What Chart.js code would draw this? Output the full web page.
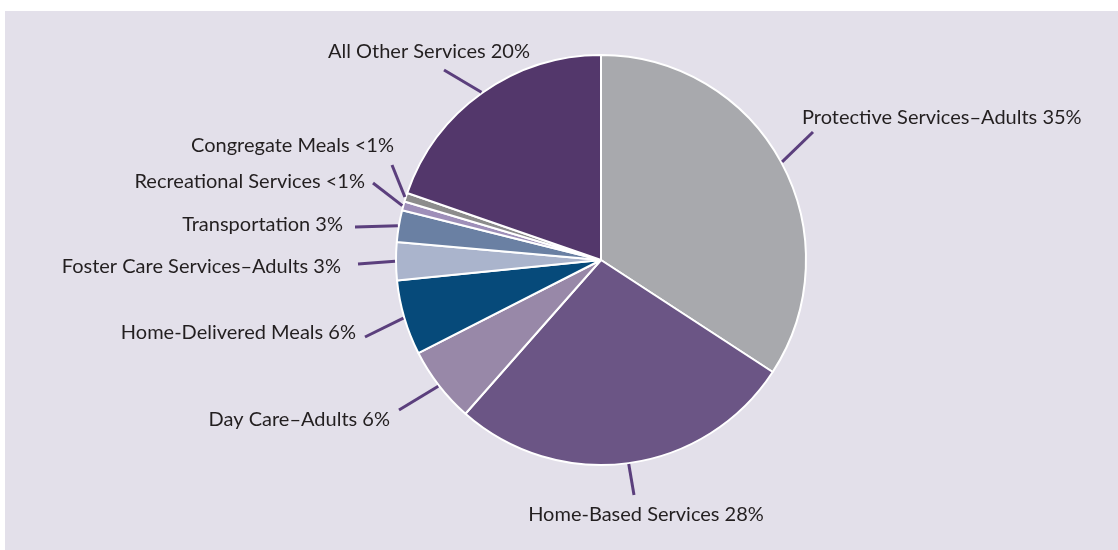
<!DOCTYPE html>
<html>
<head>
<meta charset="utf-8">
<script src="https://cdn.jsdelivr.net/npm/chart.js@4"></script>
<style>
  html, body { margin: 0; padding: 0; background: #fff; }
  #wrap { position: relative; width: 1118px; height: 550px; overflow: hidden; }
  #panel { position: absolute; left: 5px; top: 11px; right: 0; bottom: 0; background: #e3e0ea; }
  #myChart { position: absolute; left: 0; top: 0; }
</style>
</head>
<body>
<div id="wrap">
  <div id="panel"></div>
  <canvas id="myChart" width="1118" height="550"></canvas>
</div>
<script>
const categorias = [
  'Protective Services–Adults 35%',
  'Home-Based Services 28%',
  'Day Care–Adults 6%',
  'Home-Delivered Meals 6%',
  'Foster Care Services–Adults 3%',
  'Transportation 3%',
  'Recreational Services <1%',
  'Congregate Meals <1%',
  'All Other Services 20%',
];
const valores = [34.2, 27.3, 6.0, 5.9, 3.0, 2.5, 0.7, 0.7, 19.7];
const colores = [
  '#a8a9ad',
  '#6b5585',
  '#9888a8',
  '#064a7a',
  '#aab4cc',
  '#6a80a3',
  '#9e8fb9',
  '#8c8c8c',
  '#53376b',
];

// where each label and the end of its leader line sit: [lineX, lineY, textX, textY, align]
const etiquetas = [
  [813, 132, 802, 118, 'left'],
  [634, 495, 646, 515, 'center'],
  [399, 410, 390, 420, 'right'],
  [365, 337, 356, 333, 'right'],
  [358, 264, 341, 267, 'right'],
  [355, 227, 343, 225, 'right'],
  [373, 183, 365, 182, 'right'],
  [392, 165, 394, 146, 'right'],
  [444, 70, 429, 52, 'center'],
];

const leaderLabels = {
  id: 'leaderLabels',
  afterDatasetsDraw(chart) {
    const ctx = chart.ctx;
    const arcs = chart.getDatasetMeta(0).data;
    ctx.save();
    arcs.forEach((arc, i) => {
      const [lx, ly, tx, ty, align] = etiquetas[i];
      const mid = (arc.startAngle + arc.endAngle) / 2;
      const r = arc.outerRadius + 1;
      const sx = arc.x + Math.cos(mid) * r;
      const sy = arc.y + Math.sin(mid) * r;
      ctx.strokeStyle = '#5b3f7d';
      ctx.lineWidth = 3;
      ctx.beginPath();
      ctx.moveTo(sx, sy);
      ctx.lineTo(lx, ly);
      ctx.stroke();
      ctx.fillStyle = '#231f20';
      ctx.font = '20px Lato';
      ctx.textAlign = align;
      ctx.textBaseline = 'middle';
      ctx.fillText(categorias[i], tx, ty);
    });
    ctx.restore();
  },
};

const data = {
  labels: categorias,
  datasets: [
    {
      data: valores,
      backgroundColor: colores,
      borderColor: '#ffffff',
      borderWidth: 2,
    },
  ],
};

const config = {
  type: 'pie',
  data: data,
  options: {
    responsive: false,
    animation: false,
    layout: { padding: { left: 84, right: 0, top: 54, bottom: 84 } },
    plugins: {
      legend: { display: false },
      tooltip: { enabled: false },
    },
  },
  plugins: [leaderLabels],
};

const myChart = new Chart(document.querySelector('#myChart'), config);
</script>
</body>
</html>
